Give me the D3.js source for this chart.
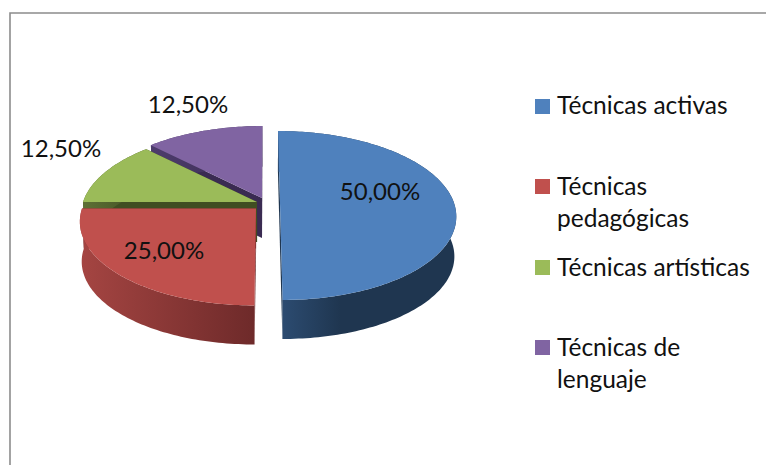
<!DOCTYPE html>
<html>
<head>
<meta charset="utf-8">
<script src="https://cdn.jsdelivr.net/npm/d3@7"></script>
<style>
html,body{margin:0;padding:0;background:#fff;overflow:hidden}
svg{display:block}
text{font-family:Lato,"Open Sans",sans-serif;font-size:24.5px;fill:#111}
text.val{font-size:24px}
</style>
</head>
<body>
<svg id="c" width="766" height="465"></svg>
<script>
const categories = ["Técnicas activas", "Técnicas pedagógicas", "Técnicas artísticas", "Técnicas de lenguaje"];
const values = [50, 25, 12.5, 12.5];
const legendLines = [["Técnicas activas"], ["Técnicas", "pedagógicas"], ["Técnicas artísticas"], ["Técnicas de", "lenguaje"]];
const colors = ["#4f81bd", "#c0504d", "#9bbb59", "#8064a2"];
const faceColors = ["#1f3650", "#6e2a2a", "#404e22", "#3a2b52"];
const wallStops = [["#2d4d73", "#1f3650"], ["#a54542", "#6e2a2a"], ["#5d7035", "#404e22"], ["#4d3c6c", "#3a2b52"]];

// layout (not data): per-slice horizontal explosion and screen shift
const explode = [[15, 0], [-9, 5.5], [-8, -1], [-3, -5]];
const labelAt = [[380, 192], [164, 251], [61, 149], [188, 105]];
const legendY = [114, 195, 276, 356];
const legendBoxY = [99, 179, 260, 340];
const legendH = 32;

const vpx = 265, cy = 203, R = 174, H = 82.6, k = 0.148, wallDrop = 40, wallScale = 0.99;

const svg = d3.select("#c");
const defs = svg.append("defs");

// frame
const frame = d3.path();
frame.moveTo(10, 466); frame.lineTo(10, 13); frame.lineTo(766, 13);
svg.append("path").attr("d", frame.toString()).attr("fill", "none").attr("stroke", "#8c8c8c").attr("stroke-width", 1.6);

const pie = d3.pie().sort(null).value(d => d).startAngle(0).endAngle(2 * Math.PI);
const arcs = pie(values);

function project(i, px, py, lower) {
  const X = px * R + explode[i][0];
  const s = 1 / (1 - k * py);
  const zs = lower ? wallScale : 1;
  return [vpx + X * s * zs, cy + explode[i][1] + (lower ? wallDrop : 0) + H * py * s * zs];
}
const polar = a => [Math.sin(a), -Math.cos(a)];
const line = d3.line();

function rim(i, a0, a1, lower) {
  const n = Math.max(2, Math.ceil((a1 - a0) / 0.02));
  return d3.range(n + 1).map(j => {
    const p = polar(a0 + (a1 - a0) * j / n);
    return project(i, p[0], p[1], lower);
  });
}

// back to front
const order = [3, 2, 0, 1];
order.forEach(i => {
  const d = arcs[i], g = svg.append("g");
  const gid = "wall" + i;
  const lg = defs.append("linearGradient").attr("id", gid)
    .attr("x1", "0").attr("x2", i === 0 ? "0.35" : "1");
  lg.append("stop").attr("offset", "0").attr("stop-color", wallStops[i][0]);
  lg.append("stop").attr("offset", "1").attr("stop-color", wallStops[i][1]);

  // radial cut faces
  [d.startAngle, d.endAngle].forEach(a => {
    const p = polar(a);
    const quad = [project(i, 0, 0), project(i, p[0], p[1]), project(i, p[0], p[1], true), project(i, 0, 0, true)];
    g.append("path").attr("d", line(quad) + "Z").attr("fill", faceColors[i]);
  });
  // outer wall
  const topRim = rim(i, d.startAngle, d.endAngle, false);
  const lowRim = rim(i, d.startAngle, d.endAngle, true).reverse();
  g.append("path").attr("d", line(topRim.concat(lowRim)) + "Z").attr("fill", `url(#${gid})`);
  // top surface
  const top = [project(i, 0, 0)].concat(topRim);
  g.append("path").attr("d", line(top) + "Z").attr("fill", colors[i]);
});

// value labels
const fmt = v => v.toFixed(2).replace(".", ",") + "%";
svg.selectAll("text.val").data(values).join("text").attr("class", "val")
  .attr("x", (d, i) => labelAt[i][0]).attr("y", (d, i) => labelAt[i][1] + 8)
  .attr("text-anchor", "middle").text(fmt);

// legend
const lg = svg.selectAll("g.leg").data(categories).join("g").attr("class", "leg");
lg.append("rect").attr("x", 535).attr("y", (d, i) => legendBoxY[i]).attr("width", 15).attr("height", 15)
  .attr("fill", (d, i) => colors[i]);
lg.each(function (d, i) {
  d3.select(this).selectAll("text").data(legendLines[i]).join("text")
    .attr("x", 557).attr("y", (t, j) => legendY[i] + j * legendH).text(t => t);
});
</script>
</body>
</html>
